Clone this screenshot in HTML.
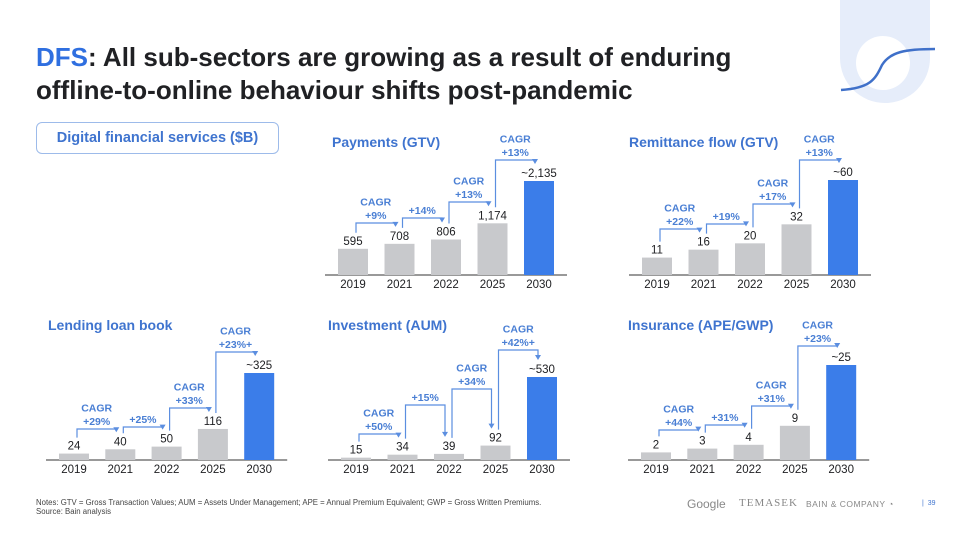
<!DOCTYPE html>
<html><head><meta charset="utf-8">
<style>
body{margin:0;width:960px;height:540px;background:#fff;overflow:hidden;font-family:"Liberation Sans",sans-serif;position:relative}
.t{position:absolute;left:36px;font-size:26px;font-weight:bold;color:#202124;letter-spacing:0}
.box{position:absolute;left:36px;top:122px;width:241px;height:30px;border:1.5px solid #9dbbea;border-radius:6px;color:#3f74cf;font-weight:bold;font-size:14.5px;line-height:30px;text-align:center}
.notes{position:absolute;left:36px;top:498px;font-size:7.8px;color:#444;line-height:9px}
.logos{position:absolute;top:497px;font-size:11px;color:#888}
</style></head><body>
<svg style="position:absolute;left:0;top:0" width="960" height="540">
<path d="M840 0 H930 V58 A45 45 0 0 1 840 58 Z" fill="#e6edfa"/>
<circle cx="883" cy="63" r="27" fill="#fff"/>
<path d="M841 90 C870 88 875 80 882 65 C890 52 905 49 935 49" stroke="#3f70c9" stroke-width="2.5" fill="none"/>
</svg>
<div class="t" style="top:42px"><span style="color:#2f6fe0">DFS</span>: All sub-sectors are growing as a result of enduring</div>
<div class="t" style="top:75px">offline-to-online behaviour shifts post-pandemic</div>
<div class="box">Digital financial services ($B)</div>
<div class="notes">Notes: GTV = Gross Transaction Values; AUM = Assets Under Management; APE = Annual Premium Equivalent; GWP = Gross Written Premiums.<br>Source: Bain analysis</div>
<div class="logos" style="left:687px;font-size:12px">Google</div>
<div class="logos" style="left:739px;font-family:'Liberation Serif',serif;letter-spacing:1px">TEMASEK</div>
<div class="logos" style="left:806px;font-size:8.5px;top:499px;letter-spacing:0.5px">BAIN &amp; COMPANY ◔</div>
<div class="logos" style="left:922px;font-size:7px;top:500px;color:#3f74cf">|&nbsp;&nbsp;39</div>
<svg id="charts" style="position:absolute;left:0;top:0" width="960" height="540"></svg>
<script>
const years = ['2019','2021','2022','2025','2030'];
const paymentsValues = [595, 708, 806, 1174, 2135];
const paymentsLabels = ['595','708','806','1,174','~2,135'];
const paymentsCagr = [['CAGR','+9%'],['+14%'],['CAGR','+13%'],['CAGR','+13%']];
const remitValues = [11, 16, 20, 32, 60];
const remitLabels = ['11','16','20','32','~60'];
const remitCagr = [['CAGR','+22%'],['+19%'],['CAGR','+17%'],['CAGR','+13%']];
const lendingValues = [24, 40, 50, 116, 325];
const lendingLabels = ['24','40','50','116','~325'];
const lendingCagr = [['CAGR','+29%'],['+25%'],['CAGR','+33%'],['CAGR','+23%+']];
const investValues = [15, 34, 39, 92, 530];
const investLabels = ['15','34','39','92','~530'];
const investCagr = [['CAGR','+50%'],['+15%'],['CAGR','+34%'],['CAGR','+42%+']];
const insureValues = [2, 3, 4, 9, 25];
const insureLabels = ['2','3','4','9','~25'];
const insureCagr = [['CAGR','+44%'],['+31%'],['CAGR','+31%'],['CAGR','+23%']];

const svg = document.getElementById('charts');
const NS = 'http://www.w3.org/2000/svg';
function mk(tag, attrs, name){
  const e = document.createElementNS(NS, tag);
  for (const k in attrs) e.setAttribute(k, attrs[k]);
  
  
  svg.appendChild(e);
  return e;
}
function txt(x,y,s,size,fill,weight,anchor,name){
  const t = mk('text',{x:x,y:y,'font-size':size,fill:fill,'font-weight':weight,'text-anchor':anchor||'middle','font-family':'Liberation Sans, sans-serif'},name);
  t.textContent = s;
  return t;
}
function panel(p){
  const max = Math.max(...p.values);
  const yScale = v => p.base - v / max * p.maxH;
  const xScale = i => p.x0 + i * p.step;
  txt(p.titleX, p.titleY, p.title, 14, '#3f74cf', 'bold', 'start', p.id + '-title');
  mk('line',{x1:xScale(0)-28,x2:xScale(4)+28,y1:p.base,y2:p.base,stroke:'#333','stroke-width':1}, p.id + '-baseline');
  const tops = [];
  p.values.forEach((v,i)=>{
    const top = yScale(v); tops.push(top);
    mk('rect',{x:xScale(i)-15,y:top,width:30,height:p.base-top,fill:i===4?'#3b7de9':'#c8c9cc'}, p.id + '-bar-' + years[i]);
    txt(xScale(i), top-4, p.labels[i], 11.5, '#202124', '500', 'middle', p.id + '-value-' + years[i]);
    txt(xScale(i), p.base+13, years[i], 11.5, '#202124', 'normal', 'middle', p.id + '-year-' + years[i]);
  });
  p.cagr.forEach((c,i)=>{
    const lvl = p.levels[i];
    const sx = xScale(i) + 3, ex = xScale(i+1) - 4;
    const sy = tops[i] - 16, ey = tops[i+1] - 17;
    mk('path',{d:`M${sx} ${sy} V${lvl} H${ex} V${ey-4}`,stroke:'#5b8ee0','stroke-width':1.2,fill:'none'}, p.id + '-cagr-arrow-' + (i+1));
    mk('path',{d:`M${ex-3} ${ey-5} L${ex+3} ${ey-5} L${ex} ${ey} Z`,fill:'#5b8ee0'}, p.id + '-cagr-arrowhead-' + (i+1));
    const cx = (sx + ex) / 2;
    const lines = c.slice().reverse();
    lines.forEach((s,j)=>{
      txt(cx, lvl - 4 - j*13.5, s, 10.5, '#4a7fd4', 'bold', 'middle', p.id + '-cagr-label-' + (i+1));
    });
  });
}
panel({id:'payments',title:'Payments (GTV)',titleX:332,titleY:147,values:paymentsValues,labels:paymentsLabels,cagr:paymentsCagr,x0:353,step:46.5,base:275,maxH:94,levels:[223,218,202,160]});
panel({id:'remittance',title:'Remittance flow (GTV)',titleX:629,titleY:147,values:remitValues,labels:remitLabels,cagr:remitCagr,x0:657,step:46.5,base:275,maxH:95,levels:[229,224,204,160]});
panel({id:'lending',title:'Lending loan book',titleX:48,titleY:330,values:lendingValues,labels:lendingLabels,cagr:lendingCagr,x0:74,step:46.3,base:460,maxH:87,levels:[429,427,408,352]});
panel({id:'investment',title:'Investment (AUM)',titleX:328,titleY:330,values:investValues,labels:investLabels,cagr:investCagr,x0:356,step:46.5,base:460,maxH:83,levels:[434,405,389,350]});
panel({id:'insurance',title:'Insurance (APE/GWP)',titleX:628,titleY:330,values:insureValues,labels:insureLabels,cagr:insureCagr,x0:656,step:46.3,base:460,maxH:95,levels:[430,425,406,346]});
</script>
</body></html>
